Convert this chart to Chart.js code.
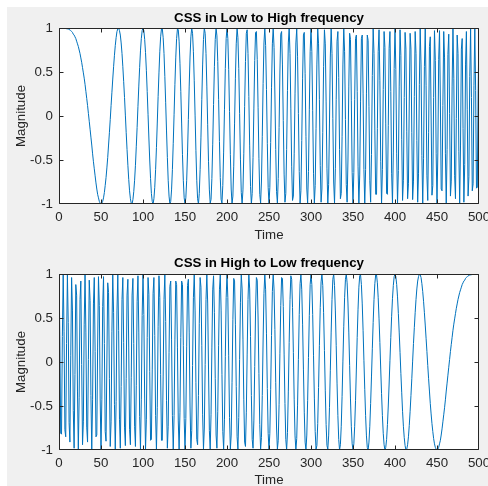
<!DOCTYPE html>
<html><head><meta charset="utf-8">
<script src="https://cdn.jsdelivr.net/npm/chart.js@4/dist/chart.umd.min.js"></script>
<style>
html,body{margin:0;padding:0;background:#fff;overflow:hidden;width:488px;height:486px;}
#fig{position:absolute;left:7px;top:7px;width:481px;height:479px;background:#f0f0f0;}
canvas{position:absolute;left:7px;}
#c1{top:7px;}
#c2{top:247px;}
</style></head><body>
<div id="fig"></div>
<canvas id="c1" width="481" height="240"></canvas>
<canvas id="c2" width="481" height="250"></canvas>
<script>
const time = [
0,1,2,3,4,5,6,7,8,9,10,11,12,13,14,15,16,17,18,19,20,21,22,23,24,25,26,27,28,29,30,31,32,33,34,35,36,37,38,39,40,41,42,43,44,45,46,47,48,49,
50,51,52,53,54,55,56,57,58,59,60,61,62,63,64,65,66,67,68,69,70,71,72,73,74,75,76,77,78,79,80,81,82,83,84,85,86,87,88,89,90,91,92,93,94,95,96,97,98,99,
100,101,102,103,104,105,106,107,108,109,110,111,112,113,114,115,116,117,118,119,120,121,122,123,124,125,126,127,128,129,130,131,132,133,134,135,136,137,138,139,140,141,142,143,144,145,146,147,148,149,
150,151,152,153,154,155,156,157,158,159,160,161,162,163,164,165,166,167,168,169,170,171,172,173,174,175,176,177,178,179,180,181,182,183,184,185,186,187,188,189,190,191,192,193,194,195,196,197,198,199,
200,201,202,203,204,205,206,207,208,209,210,211,212,213,214,215,216,217,218,219,220,221,222,223,224,225,226,227,228,229,230,231,232,233,234,235,236,237,238,239,240,241,242,243,244,245,246,247,248,249,
250,251,252,253,254,255,256,257,258,259,260,261,262,263,264,265,266,267,268,269,270,271,272,273,274,275,276,277,278,279,280,281,282,283,284,285,286,287,288,289,290,291,292,293,294,295,296,297,298,299,
300,301,302,303,304,305,306,307,308,309,310,311,312,313,314,315,316,317,318,319,320,321,322,323,324,325,326,327,328,329,330,331,332,333,334,335,336,337,338,339,340,341,342,343,344,345,346,347,348,349,
350,351,352,353,354,355,356,357,358,359,360,361,362,363,364,365,366,367,368,369,370,371,372,373,374,375,376,377,378,379,380,381,382,383,384,385,386,387,388,389,390,391,392,393,394,395,396,397,398,399,
400,401,402,403,404,405,406,407,408,409,410,411,412,413,414,415,416,417,418,419,420,421,422,423,424,425,426,427,428,429,430,431,432,433,434,435,436,437,438,439,440,441,442,443,444,445,446,447,448,449,
450,451,452,453,454,455,456,457,458,459,460,461,462,463,464,465,466,467,468,469,470,471,472,473,474,475,476,477,478,479,480,481,482,483,484,485,486,487,488,489,490,491,492,493,494,495,496,497,498,499,
500];

const lowToHigh = [
1,1,1,1,1,1,1,1,1,0.99,
0.99,0.99,0.98,0.98,0.97,0.96,0.95,0.93,0.92,0.90,
0.88,0.85,0.82,0.79,0.75,0.71,0.66,0.61,0.55,0.49,
0.43,0.36,0.28,0.20,0.12,0.03,-0.06,-0.15,-0.24,-0.33,
-0.43,-0.52,-0.60,-0.68,-0.76,-0.83,-0.89,-0.93,-0.97,-0.99,
-1,-0.99,-0.97,-0.93,-0.87,-0.79,-0.70,-0.59,-0.47,-0.33,
-0.19,-0.04,0.12,0.27,0.42,0.56,0.69,0.80,0.89,0.96,
0.99,1,0.97,0.92,0.83,0.71,0.56,0.39,0.21,0.01,
-0.19,-0.38,-0.56,-0.72,-0.85,-0.94,-0.99,-1,-0.95,-0.86,
-0.73,-0.56,-0.35,-0.13,0.11,0.34,0.55,0.74,0.88,0.97,
1,0.97,0.87,0.72,0.52,0.28,0.02,-0.25,-0.50,-0.71,
-0.88,-0.97,-1,-0.94,-0.81,-0.61,-0.36,-0.08,0.22,0.49,
0.73,0.90,0.99,0.99,0.89,0.71,0.45,0.15,-0.17,-0.47,
-0.73,-0.91,-1,-0.97,-0.84,-0.61,-0.31,0.02,0.36,0.66,
0.88,0.99,0.98,0.85,0.60,0.28,-0.08,-0.44,-0.73,-0.93,
-1,-0.93,-0.73,-0.42,-0.04,0.34,0.67,0.90,1,0.94,
0.73,0.40,0.01,-0.39,-0.73,-0.94,-1,-0.88,-0.61,-0.24,
0.19,0.58,0.87,1,0.94,0.71,0.34,-0.10,-0.52,-0.84,
-0.99,-0.95,-0.71,-0.32,0.13,0.56,0.87,1,0.91,0.62,
0.19,-0.29,-0.70,-0.95,-0.99,-0.79,-0.41,0.07,0.54,0.88,
1,0.88,0.53,0.05,-0.44,-0.83,-1,-0.91,-0.57,-0.09,
0.43,0.82,1,0.89,0.54,0.03,-0.49,-0.87,-1,-0.84,
-0.43,0.11,0.62,0.94,0.98,0.71,0.22,-0.34,-0.80,-1,
-0.88,-0.47,0.09,0.63,0.95,0.96,0.64,0.10,-0.48,-0.89,
-0.99,-0.75,-0.23,0.37,0.83,1,0.80,0.30,-0.31,-0.81,
-1,-0.81,-0.30,0.32,0.82,1,0.78,0.25,-0.38,-0.86,
-0.99,-0.71,-0.13,0.50,0.93,0.96,0.58,-0.05,-0.66,-0.98,
-0.88,-0.38,0.29,0.83,1,0.71,0.09,-0.57,-0.96,-0.91,
-0.43,0.26,0.83,0.99,0.68,0.03,-0.63,-0.99,-0.85,-0.28,
0.43,0.92,0.95,0.48,-0.23,-0.83,-0.99,-0.63,0.07,0.73,
1,0.73,0.06,-0.65,-0.99,-0.79,-0.14,0.59,0.99,0.82,
0.19,-0.56,-0.98,-0.83,-0.19,0.56,0.98,0.82,0.16,-0.60,
-0.99,-0.78,-0.08,0.67,1,0.71,-0.03,-0.75,-0.99,-0.60,
0.19,0.85,0.96,0.44,-0.38,-0.94,-0.88,-0.23,0.58,1,
0.73,-0.04,-0.78,-0.98,-0.50,0.34,0.94,0.87,0.18,-0.64,
-1,-0.64,0.19,0.88,0.92,0.28,-0.57,-1,-0.67,0.16,
0.88,0.92,0.26,-0.61,-1,-0.61,0.26,0.92,0.86,0.11,
-0.73,-0.98,-0.44,0.46,0.99,0.71,-0.16,-0.89,-0.89,-0.14,
0.73,0.98,0.40,-0.52,-1,-0.61,0.30,0.96,0.78,-0.09,
-0.88,-0.89,-0.11,0.77,0.96,0.28,-0.65,-0.99,-0.42,0.54,
1,0.53,-0.43,-0.99,-0.62,0.34,0.98,0.69,-0.27,-0.96,
-0.73,0.21,0.95,0.76,-0.18,-0.94,-0.77,0.17,0.94,0.76,
-0.19,-0.95,-0.74,0.22,0.96,0.71,-0.28,-0.98,-0.65,0.36,
0.99,0.58,-0.45,-1,-0.48,0.56,0.99,0.35,-0.68,-0.96,
-0.19,0.79,0.90,0,-0.90,-0.79,0.21,0.97,0.63,-0.43,
-1,-0.42,0.64,0.97,0.17,-0.83,-0.85,0.12,0.96,0.66,
-0.43,-1,-0.38,0.70,0.93,0.03,-0.91,-0.74,0.34,1,
0.43,-0.68,-0.94,-0.03,0.92,0.71,-0.40,-1,-0.33,0.76,
0.88,-0.14,-0.98,-0.55,0.59,0.96,0.07,-0.91,-0.69,0.45,
0.99,0.21,-0.85,-0.77,0.35,1,0.29,-0.82,-0.81,0.31,
1];

const highToLow = [
1,0.31,-0.81,-0.82,0.29,1,0.35,-0.77,-0.85,0.21,
0.99,0.45,-0.69,-0.91,0.07,0.96,0.59,-0.55,-0.98,-0.14,
0.88,0.76,-0.33,-1,-0.40,0.71,0.92,-0.03,-0.94,-0.68,
0.43,1,0.34,-0.74,-0.91,0.03,0.93,0.70,-0.38,-1,
-0.43,0.66,0.96,0.12,-0.85,-0.83,0.17,0.97,0.64,-0.42,
-1,-0.43,0.63,0.97,0.21,-0.79,-0.90,0,0.90,0.79,
-0.19,-0.96,-0.68,0.35,0.99,0.56,-0.48,-1,-0.45,0.58,
0.99,0.36,-0.65,-0.98,-0.28,0.71,0.96,0.22,-0.74,-0.95,
-0.19,0.76,0.94,0.17,-0.77,-0.94,-0.18,0.76,0.95,0.21,
-0.73,-0.96,-0.27,0.69,0.98,0.34,-0.62,-0.99,-0.43,0.53,
1,0.54,-0.42,-0.99,-0.65,0.28,0.96,0.77,-0.11,-0.89,
-0.88,-0.09,0.78,0.96,0.30,-0.61,-1,-0.52,0.40,0.98,
0.73,-0.14,-0.89,-0.89,-0.16,0.71,0.99,0.46,-0.44,-0.98,
-0.73,0.11,0.86,0.92,0.26,-0.61,-1,-0.61,0.26,0.92,
0.88,0.16,-0.67,-1,-0.57,0.28,0.92,0.88,0.19,-0.64,
-1,-0.64,0.18,0.87,0.94,0.34,-0.50,-0.98,-0.78,-0.04,
0.73,1,0.58,-0.23,-0.88,-0.94,-0.38,0.44,0.96,0.85,
0.19,-0.60,-0.99,-0.75,-0.03,0.71,1,0.67,-0.08,-0.78,
-0.99,-0.60,0.16,0.82,0.98,0.56,-0.19,-0.83,-0.98,-0.56,
0.19,0.82,0.99,0.59,-0.14,-0.79,-0.99,-0.65,0.06,0.73,
1,0.73,0.07,-0.63,-0.99,-0.83,-0.23,0.48,0.95,0.92,
0.43,-0.28,-0.85,-0.99,-0.63,0.03,0.68,0.99,0.83,0.26,
-0.43,-0.91,-0.96,-0.57,0.09,0.71,1,0.83,0.29,-0.38,
-0.88,-0.98,-0.66,-0.05,0.58,0.96,0.93,0.50,-0.13,-0.71,
-0.99,-0.86,-0.38,0.25,0.78,1,0.82,0.32,-0.30,-0.81,
-1,-0.81,-0.31,0.30,0.80,1,0.83,0.37,-0.23,-0.75,
-0.99,-0.89,-0.48,0.10,0.64,0.96,0.95,0.63,0.09,-0.47,
-0.88,-1,-0.80,-0.34,0.22,0.71,0.98,0.94,0.62,0.11,
-0.43,-0.84,-1,-0.87,-0.49,0.03,0.54,0.89,1,0.82,
0.43,-0.09,-0.57,-0.91,-1,-0.83,-0.44,0.05,0.53,0.88,
1,0.88,0.54,0.07,-0.41,-0.79,-0.99,-0.95,-0.70,-0.29,
0.19,0.62,0.91,1,0.87,0.56,0.13,-0.32,-0.71,-0.95,
-0.99,-0.84,-0.52,-0.10,0.34,0.71,0.94,1,0.87,0.58,
0.19,-0.24,-0.61,-0.88,-1,-0.94,-0.73,-0.39,0.01,0.40,
0.73,0.94,1,0.90,0.67,0.34,-0.04,-0.42,-0.73,-0.93,
-1,-0.93,-0.73,-0.44,-0.08,0.28,0.60,0.85,0.98,0.99,
0.88,0.66,0.36,0.02,-0.31,-0.61,-0.84,-0.97,-1,-0.91,
-0.73,-0.47,-0.17,0.15,0.45,0.71,0.89,0.99,0.99,0.90,
0.73,0.49,0.22,-0.08,-0.36,-0.61,-0.81,-0.94,-1,-0.97,
-0.88,-0.71,-0.50,-0.25,0.02,0.28,0.52,0.72,0.87,0.97,
1,0.97,0.88,0.74,0.55,0.34,0.11,-0.13,-0.35,-0.56,
-0.73,-0.86,-0.95,-1,-0.99,-0.94,-0.85,-0.72,-0.56,-0.38,
-0.19,0.01,0.21,0.39,0.56,0.71,0.83,0.92,0.97,1,
0.99,0.96,0.89,0.80,0.69,0.56,0.42,0.27,0.12,-0.04,
-0.19,-0.33,-0.47,-0.59,-0.70,-0.79,-0.87,-0.93,-0.97,-0.99,
-1,-0.99,-0.97,-0.93,-0.89,-0.83,-0.76,-0.68,-0.60,-0.52,
-0.43,-0.33,-0.24,-0.15,-0.06,0.03,0.12,0.20,0.28,0.36,
0.43,0.49,0.55,0.61,0.66,0.71,0.75,0.79,0.82,0.85,
0.88,0.90,0.92,0.93,0.95,0.96,0.97,0.98,0.98,0.99,
0.99,0.99,1,1,1,1,1,1,1,1,
1];

const xTicks = [0,50,100,150,200,250,300,350,400,450,500];
const yTicks = [-1,-0.5,0,0.5,1];
const titles = ['CSS in Low to High frequency', 'CSS in High to Low frequency'];
const xLabel = 'Time';
const yLabel = 'Magnitude';

const FONT = "'Liberation Sans', Arial, Helvetica, sans-serif";
const AXIS = '#262626';
const LINE = '#0072BD';
const TICKLEN = 4;

const framePlugin = {
  id: 'frame',
  beforeDraw(chart) {
    const {ctx, chartArea: a} = chart;
    ctx.save();
    ctx.fillStyle = '#ffffff';
    ctx.fillRect(a.left, a.top, a.right - a.left, a.bottom - a.top);
    ctx.restore();
  },
  afterDatasetsDraw(chart) {
    const {ctx, chartArea: a, scales} = chart;
    const L = Math.round(a.left) + 0.5, R = Math.round(a.right) - 0.5;
    const T = Math.round(a.top) + 0.5, B = Math.round(a.bottom) - 0.5;
    ctx.save();
    ctx.strokeStyle = AXIS;
    ctx.lineWidth = 1;
    ctx.beginPath();
    ctx.rect(L, T, R - L, B - T);
    xTicks.forEach(v => {
      let px = Math.round(scales.x.getPixelForValue(v)) + 0.5;
      px = Math.min(Math.max(px, L), R);
      ctx.moveTo(px, B); ctx.lineTo(px, B - TICKLEN);
      ctx.moveTo(px, T); ctx.lineTo(px, T + TICKLEN);
    });
    yTicks.forEach(v => {
      let py = Math.round(scales.y.getPixelForValue(v)) + 0.5;
      py = Math.min(Math.max(py, T), B);
      ctx.moveTo(L, py); ctx.lineTo(L + TICKLEN, py);
      ctx.moveTo(R, py); ctx.lineTo(R - TICKLEN, py);
    });
    ctx.stroke();
    ctx.restore();
  }
};

function noPad(s) {
  s.paddingLeft = 0; s.paddingRight = 0; s.paddingTop = 0; s.paddingBottom = 0;
}

function makeChart(id, values, title, cfg) {
  return new Chart(document.getElementById(id), {
    type: 'line',
    data: {
      labels: time,
      datasets: [{
        data: values,
        borderColor: LINE,
        borderWidth: 1,
        borderDash: [100000, 0],
        borderJoinStyle: 'round',
        borderCapStyle: 'round',
        pointRadius: 0,
        tension: 0,
        fill: false
      }]
    },
    plugins: [framePlugin],
    options: {
      responsive: false,
      animation: false,
      devicePixelRatio: 1,
      events: [],
      layout: { autoPadding: false, padding: { left: 0, right: 9, top: 0, bottom: 0 } },
      plugins: {
        legend: { display: false },
        tooltip: { enabled: false },
        title: {
          display: true,
          text: title,
          fullSize: false,
          color: '#000000',
          font: { family: FONT, size: 13.3, weight: 'bold', lineHeight: 1.2 },
          padding: { top: cfg.tTop, bottom: cfg.tBottom }
        }
      },
      scales: {
        x: {
          type: 'linear',
          min: 0, max: 500,
          grid: { display: false, drawTicks: false },
          border: { display: false },
          afterBuildTicks: s => { s.ticks = xTicks.map(v => ({ value: v })); },
          afterFit: s => { s.height = cfg.xH; noPad(s); },
          ticks: {
            color: AXIS, padding: 5, maxRotation: 0, autoSkip: false,
            font: { family: FONT, size: 13.3, lineHeight: 1.2 },
            callback: v => String(v)
          },
          title: {
            display: true, text: xLabel, color: AXIS,
            font: { family: FONT, size: 13.3, lineHeight: 1.2 },
            padding: { top: 0, bottom: cfg.xtB }
          }
        },
        y: {
          type: 'linear',
          min: -1, max: 1,
          grid: { display: false, drawTicks: false },
          border: { display: false },
          afterBuildTicks: s => { s.ticks = yTicks.map(v => ({ value: v })); },
          afterFit: s => { s.width = 52; noPad(s); },
          ticks: {
            color: AXIS, padding: 6, autoSkip: false,
            font: { family: FONT, size: 13.3, lineHeight: 1.2 },
            callback: v => String(v)
          },
          title: {
            display: true, text: yLabel, color: AXIS,
            font: { family: FONT, size: 13.3, lineHeight: 1.2 },
            padding: { top: 6, bottom: 0 }
          }
        }
      }
    }
  });
}

makeChart('c1', lowToHigh, titles[0], { tTop: 3, tBottom: 2.04, xH: 43, xtB: 4 });
makeChart('c2', highToLow, titles[1], { tTop: 8.3, tBottom: 2.74, xH: 47, xtB: 9 });
</script>
</body></html>
